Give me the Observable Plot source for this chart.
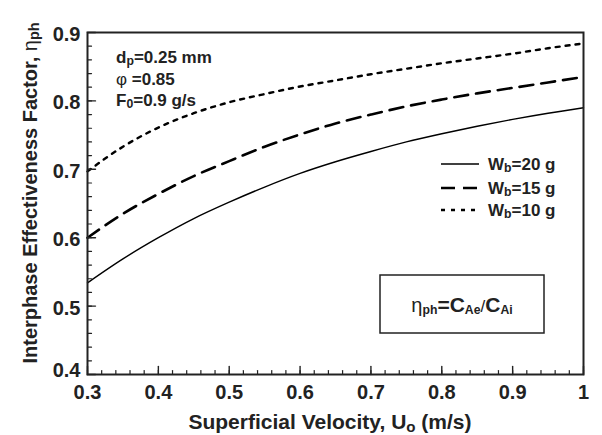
<!DOCTYPE html>
<html><head><meta charset="utf-8">
<script src="https://cdn.jsdelivr.net/npm/d3@7"></script>
<script src="https://cdn.jsdelivr.net/npm/@observablehq/plot@0.6"></script>
<style>body{margin:0;background:#fff;} svg{display:block;}</style>
</head><body><div id="chart"></div>
<script>
const velocity = [0.30, 0.35, 0.40, 0.45, 0.50, 0.55, 0.60, 0.65, 0.70, 0.75, 0.80, 0.85, 0.90, 0.95, 1.00];
const wb20 = [0.534, 0.569, 0.600, 0.628, 0.652, 0.674, 0.694, 0.711, 0.726, 0.740, 0.752, 0.763, 0.773, 0.782, 0.790];
const wb15 = [0.600, 0.635, 0.664, 0.690, 0.712, 0.733, 0.751, 0.767, 0.780, 0.792, 0.802, 0.811, 0.819, 0.827, 0.835];
const wb10 = [0.697, 0.733, 0.761, 0.782, 0.798, 0.810, 0.821, 0.830, 0.839, 0.847, 0.855, 0.862, 0.869, 0.877, 0.884];
const xTicks = [0.3, 0.4, 0.5, 0.6, 0.7, 0.8, 0.9, 1.0];
const yTicks = [0.4, 0.5, 0.6, 0.7, 0.8, 0.9];
const xMinor = d3.range(0, 36).map(i => +(0.3 + i * 0.02).toFixed(2));
const yMinor = d3.range(0, 26).map(i => +(0.4 + i * 0.02).toFixed(2));

const series = [
  {name: "20", values: wb20, width: 1.4, dash: null},
  {name: "15", values: wb15, width: 2.6, dash: "14,8"},
  {name: "10", values: wb10, width: 2.4, dash: "4,6"}
];

const tickShape = {draw(ctx, l) { ctx.moveTo(0, 0); ctx.lineTo(0, -l); }};
const font = "Liberation Sans, Arial, Helvetica, sans-serif";

const marks = [];
for (const s of series) {
  const data = velocity.map((v, i) => ({x: v, y: s.values[i]}));
  marks.push(Plot.line(data, {x: "x", y: "y", curve: "monotone-x", stroke: "#000",
    strokeWidth: s.width, strokeDasharray: s.dash}));
}
marks.push(
  Plot.vector(xMinor, {x: d => d, y: 0.4, rotate: 0, length: 4, anchor: "start", shape: tickShape, stroke: "#222", strokeWidth: 1.2}),
  Plot.vector(xTicks, {x: d => d, y: 0.4, rotate: 0, length: 8, anchor: "start", shape: tickShape, stroke: "#222", strokeWidth: 1.4}),
  Plot.vector(yMinor, {x: 0.3, y: d => d, rotate: 90, length: 4, anchor: "start", shape: tickShape, stroke: "#222", strokeWidth: 1.2}),
  Plot.vector(yTicks, {x: 0.3, y: d => d, rotate: 90, length: 8, anchor: "start", shape: tickShape, stroke: "#222", strokeWidth: 1.4}),
  Plot.axisX(xTicks, {tickSize: 0, tickPadding: 10, tickFormat: d => d === 1 ? "1" : d.toFixed(1),
    fontSize: 20, fontWeight: "bold", fill: "#222", label: null}),
  Plot.axisY(yTicks, {tickSize: 0, tickPadding: 7, dy: 2, tickFormat: d => d.toFixed(1),
    fontSize: 20, fontWeight: "bold", fill: "#222", label: null}),
  Plot.frame({stroke: "#222", strokeWidth: 2})
);

const plot = Plot.plot({
  width: 602, height: 435,
  marginLeft: 87, marginRight: 19, marginTop: 32, marginBottom: 61,
  x: {domain: [0.3, 1.0]},
  y: {domain: [0.4, 0.9]},
  style: {fontFamily: font, background: "#fff", color: "#222"},
  marks
});
document.getElementById("chart").appendChild(plot);

const svg = d3.select(plot);
// nudge the bottom y label up, clear of the x labels
svg.selectAll("[aria-label='y-axis tick label'] text").filter(function() { return this.textContent === "0.4"; })
  .attr("dy", -6);

const g = svg.append("g").attr("font-family", font).attr("font-weight", "bold").attr("fill", "#222");

function richText(parent, x, y, parts, size, anchor) {
  const t = parent.append("text").attr("x", x).attr("y", y).attr("font-size", size)
    .attr("text-anchor", anchor || "start");
  for (const p of parts) {
    const ts = t.append("tspan").text(p.t);
    if (p.sub) ts.attr("font-size", size * 0.72).attr("dy", size * 0.12);
    else if (p.after) ts.attr("dy", -size * 0.12);
    if (p.w) ts.attr("font-weight", p.w);
    if (p.size) ts.attr("font-size", p.size);
  }
  return t;
}

// axis titles
richText(g, 330, 429, [{t: "Superficial Velocity, U"}, {t: "o", sub: true}, {t: " (m/s)", after: true}], 21, "middle");
const yt = g.append("g").attr("transform", "translate(37,193) rotate(-90)");
richText(yt, 0, 0, [{t: "Interphase Effectiveness Factor, "}, {t: "η", w: "normal"}, {t: "ph", sub: true}], 20, "middle");

// condition annotations
richText(g, 116, 63, [{t: "d"}, {t: "p", sub: true}, {t: "=0.25 mm", after: true}], 17);
richText(g, 116, 85, [{t: "φ", w: "normal"}, {t: " =0.85"}], 17);
richText(g, 116, 106, [{t: "F"}, {t: "0", sub: true}, {t: "=0.9 g/s", after: true}], 17);

// legend
const legY = [164, 188, 210];
series.forEach((s, i) => {
  g.append("line").attr("x1", 441).attr("x2", 479).attr("y1", legY[i]).attr("y2", legY[i])
    .attr("stroke", "#000").attr("stroke-width", s.width).attr("stroke-dasharray", s.dash);
  richText(g, 488, legY[i] + 6, [{t: "W"}, {t: "b", sub: true}, {t: "=" + s.name + " g", after: true}], 17);
});

// formula box
g.append("rect").attr("x", 380).attr("y", 275).attr("width", 164).attr("height", 58)
  .attr("fill", "none").attr("stroke", "#222").attr("stroke-width", 1.5);
richText(g, 462, 312, [{t: "η", w: "normal", size: 20}, {t: "ph", sub: true}, {t: "=", after: true, size: 21},
  {t: "C", size: 21}, {t: "Ae", sub: true}, {t: "/", after: true, w: "normal"}, {t: "C", size: 21}, {t: "Ai", sub: true}], 17, "middle");
</script></body></html>
